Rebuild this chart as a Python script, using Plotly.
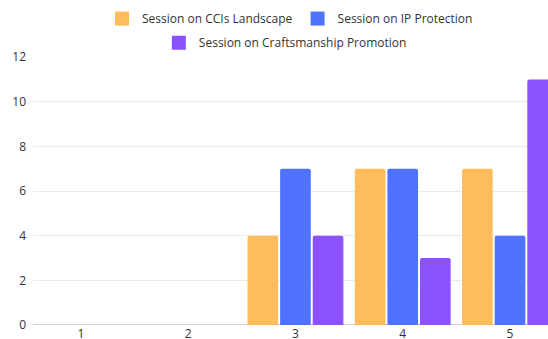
import plotly.graph_objects as go

categories = [1, 2, 3, 4, 5]
tick_labels = ["1", "2", "3", "4", "5"]
ccis_landscape = [0, 0, 4, 7, 7]
ip_protection = [0, 0, 7, 7, 4]
craftsmanship = [0, 0, 4, 3, 11]

series = [
    ("Session on CCIs Landscape", ccis_landscape, "#FFBC5C", "legend"),
    ("Session on IP Protection", ip_protection, "#5073FF", "legend"),
    ("Session on Craftsmanship Promotion", craftsmanship, "#8C52FF", "legend2"),
]

fig = go.Figure()
for name, vals, color, lg in series:
    fig.add_trace(go.Bar(
        x=categories, y=vals, name=name, showlegend=False,
        marker=dict(color=color, line=dict(width=0), cornerradius=2),
    ))
# legend entries with larger square swatches
for name, vals, color, lg in series:
    fig.add_trace(go.Scatter(
        x=[None], y=[None], mode="markers", name=name, legend=lg,
        marker=dict(symbol="square", size=14, color=color),
    ))

font_family = "Open Sans, Noto Sans, sans-serif"
fig.update_layout(
    width=548, height=339,
    margin=dict(l=33, r=0, t=56, b=14),
    paper_bgcolor="white", plot_bgcolor="white",
    barmode="group", bargap=0.088, bargroupgap=0.06,
    font=dict(family=font_family, size=12, color="#333333"),
    legend=dict(orientation="h", x=0.499, xanchor="center", y=0.988, yanchor="top",
                yref="container", font=dict(size=12, color="#333333"),
                itemwidth=30, bgcolor="rgba(0,0,0,0)", itemsizing="trace"),
    legend2=dict(orientation="h", x=0.49, xanchor="center", y=0.917, yanchor="top",
                 yref="container", font=dict(size=12, color="#333333"),
                 itemwidth=30, bgcolor="rgba(0,0,0,0)", itemsizing="trace"),
    xaxis=dict(range=[0.554, 5.354], tickvals=categories, ticktext=tick_labels,
               showgrid=False, zeroline=False, showline=False, ticks="",
               automargin=False, tickfont=dict(size=12, color="#333333")),
    yaxis=dict(range=[0, 12], dtick=2, showgrid=True, gridcolor="#EBEBEB",
               gridwidth=1, zeroline=True, zerolinecolor="#D0D0D0", zerolinewidth=1,
               showline=False, ticks="", ticklabelstandoff=6, automargin=False,
               tickfont=dict(size=12, color="#333333")),
)

fig.write_html("out.html")
